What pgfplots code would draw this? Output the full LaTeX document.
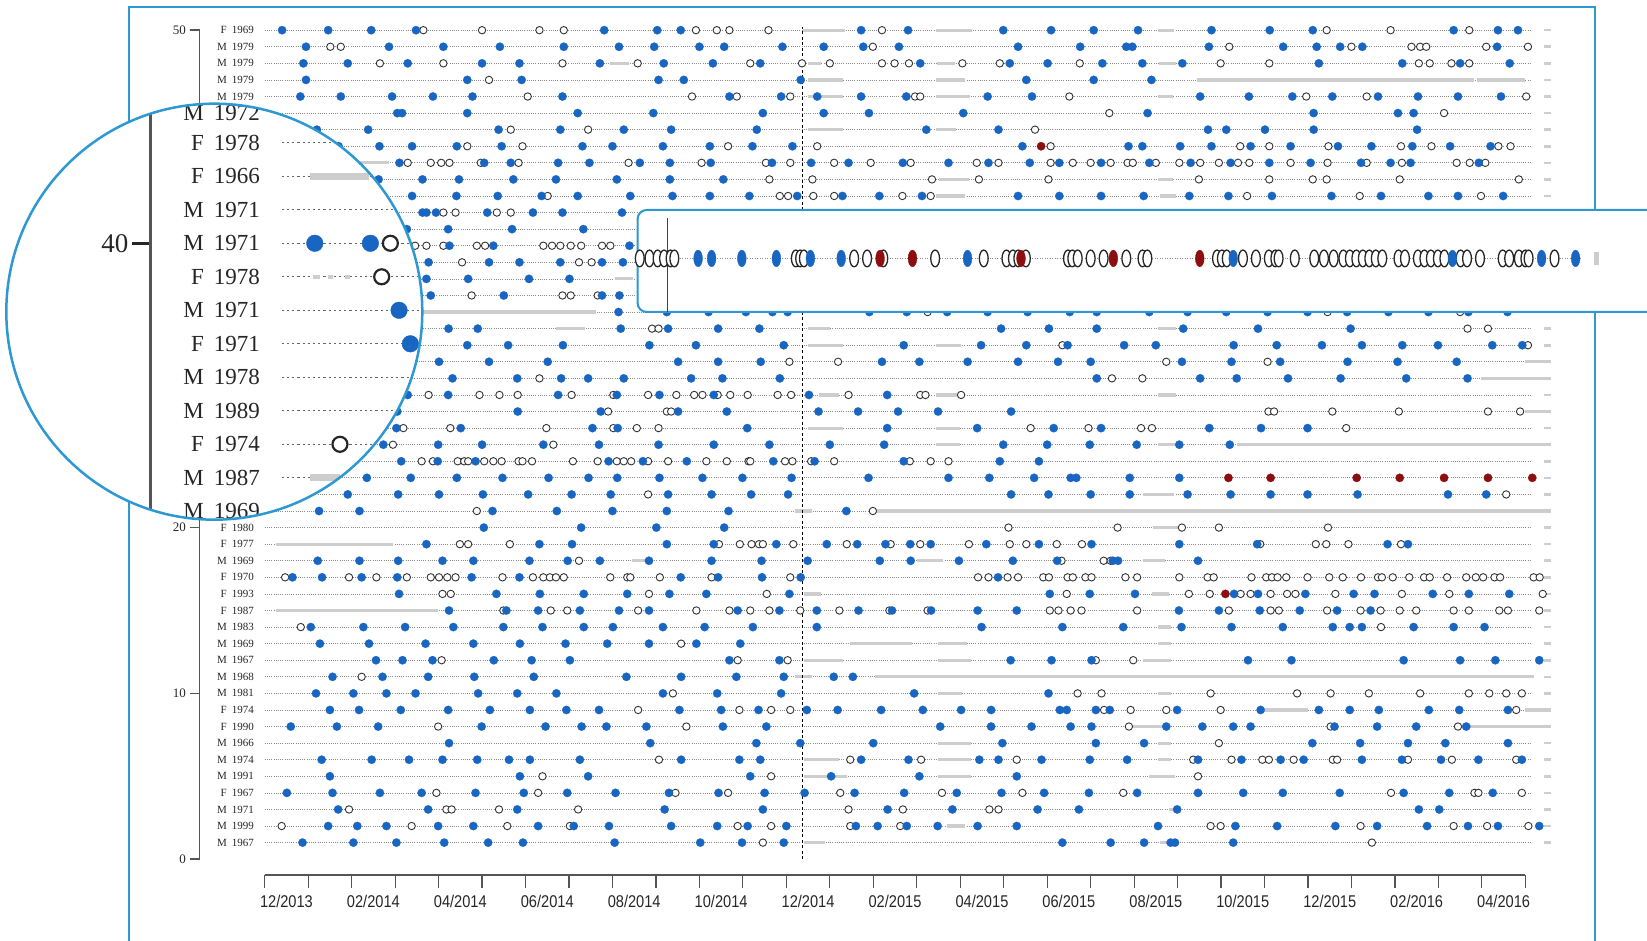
\documentclass[border=0pt]{standalone}
\usepackage{pgfplots}
\pgfplotsset{compat=1.18}
\usepackage{fontspec}
\setmainfont{Liberation Serif}
\newfontfamily\sansf{Liberation Sans}
\definecolor{ptblue}{RGB}{24,102,194}
\definecolor{ptred}{RGB}{140,14,14}
\definecolor{frameblue}{RGB}{46,152,210}
\definecolor{bargray}{RGB}{205,205,205}
\definecolor{linegray}{RGB}{140,140,140}
\definecolor{axgray}{RGB}{85,85,85}
\pgfplotsset{
  bluem/.style={only marks, mark=*, mark size=4.2pt, mark options={fill=ptblue, draw=ptblue, line width=0.2pt}},
  openm/.style={only marks, mark=*, mark size=3.7pt, mark options={fill=white, draw=black!80, line width=0.9pt}},
  redm/.style={only marks, mark=*, mark size=4.2pt, mark options={fill=ptred, draw=ptred, line width=0.2pt}},
  gbar/.style={no marks, color=bargray, line width=3.2pt, line cap=butt},
  rowline/.style={no marks, color=linegray, line width=0.7pt, dash pattern=on 0.7pt off 1.5pt},
}
\newcommand{\rl}[3]{\node[anchor=east, inner sep=0pt, font=\fontsize{11}{11}\selectfont, text=black!85] at (axis cs:-0.246,#1) {#2\hspace{5pt}#3};}
\newcommand{\cl}[3]{\node[anchor=east, inner sep=0pt, font=\fontsize{23}{23}\selectfont, text=black!85] at (axis cs:-0.25,#1) {#2\hspace{10pt}#3};}
\newcommand{\xl}[1]{\scalebox{0.86}[1]{#1}}
\begin{document}
\begin{tikzpicture}
\path[use as bounding box] (0,0) rectangle (1647pt,941pt);
\draw[frameblue, line width=2pt] (129.2pt,-5pt) -- (129.2pt,933.6pt) -- (1594.5pt,933.6pt) -- (1594.5pt,-5pt);

% ---------------- main axis ----------------
\begin{axis}[
  at={(199.5pt,81.8pt)}, anchor=south west,
  x=43.47pt, y=16.58pt,
  xmin=-1.5, xmax=30, ymin=0, ymax=50,
  axis x line=none, axis y line*=left,
  y axis line style={-, axgray, line width=1.4pt},
  ytick={0,10,20,30,40,50}, yticklabels={0,10,20,30,40,50},
  tick align=outside, major tick length=10pt,
  every tick/.style={axgray, line width=1.4pt},
  yticklabel style={font=\fontsize{13}{13}\selectfont, text=black!85},
  clip=false, unbounded coords=jump,
]
\pgfplotsinvokeforeach{1,...,50}{\addplot[rowline] coordinates {(0,#1) (29.15,#1)};}
\pgfplotsinvokeforeach{1,...,50}{\addplot[gbar, line width=2.6pt] coordinates {(29.42,#1) (29.58,#1)};}
\addplot[gbar] coordinates {
(12.38,50) (13.34,50) (nan,nan) (15.44,50) (16.27,50) (nan,nan) (20.54,50) (20.91,50) (nan,nan)
(7.95,48) (8.39,48) (nan,nan) (12.5,48) (12.8,48) (nan,nan) (15.47,48) (15.88,48) (nan,nan) (20.57,48) (20.96,48) (nan,nan)
(12.5,47) (13.3,47) (nan,nan) (15.44,47) (16.12,47) (nan,nan) (21.44,47) (27.83,47) (nan,nan) (27.88,47) (28.99,47) (nan,nan)
(12.5,46) (13.3,46) (nan,nan) (15.44,46) (16.22,46) (nan,nan) (20.54,46) (20.9,46) (nan,nan)
(12.5,44) (13.3,44) (nan,nan) (15.44,44) (15.9,44) (nan,nan)
(2.18,42) (2.86,42) (nan,nan)
(15.5,41) (16.2,41) (nan,nan) (20.54,41) (20.9,41) (nan,nan)
(15.44,40) (16.1,40) (nan,nan) (20.6,40) (20.96,40) (nan,nan)
(8.05,35) (8.48,35) (nan,nan)
(3.63,33) (7.61,33) (nan,nan)
(6.7,32) (7.37,32) (nan,nan) (12.5,32) (13.0,32) (nan,nan) (20.54,32) (20.96,32) (nan,nan)
(12.5,31) (13.3,31) (nan,nan) (15.44,31) (16.02,31) (nan,nan)
(28.99,30) (29.58,30) (nan,nan)
(27.98,29) (29.58,29) (nan,nan)
(12.75,28) (13.2,28) (nan,nan) (15.44,28) (16.0,28) (nan,nan) (20.54,28) (20.96,28) (nan,nan)
(28.99,27) (29.58,27) (nan,nan)
(12.5,26) (13.3,26) (nan,nan) (15.44,26) (16.0,26) (nan,nan)
(15.44,25) (16.0,25) (nan,nan) (20.54,25) (20.96,25) (nan,nan) (22.36,25) (29.58,25) (nan,nan)
(20.2,22) (20.91,22) (nan,nan)
(12.2,21) (12.6,21) (nan,nan) (14.0,21) (29.58,21) (nan,nan)
(20.43,20) (21.01,20) (nan,nan)
(0.26,19) (2.95,19) (nan,nan)
(8.45,18) (8.8,18) (nan,nan) (15.0,18) (15.6,18) (nan,nan) (20.2,18) (20.7,18) (nan,nan)
(12.4,16) (12.8,16) (nan,nan) (20.4,16) (20.8,16) (nan,nan)
(0.26,15) (3.99,15) (nan,nan)
(20.55,14) (20.85,14) (nan,nan)
(13.47,13) (14.9,13) (nan,nan) (15.48,13) (16.15,13) (nan,nan) (20.55,13) (20.85,13) (nan,nan)
(12.4,12) (13.3,12) (nan,nan) (15.48,12) (16.25,12) (nan,nan) (20.2,12) (20.85,12) (nan,nan)
(12.2,11) (12.6,11) (nan,nan) (14.04,11) (29.2,11) (nan,nan)
(15.48,10) (16.05,10) (nan,nan) (20.55,10) (20.85,10) (nan,nan)
(22.85,9) (24.0,9) (nan,nan) (29.0,9) (29.58,9) (nan,nan)
(19.88,8) (20.74,8) (nan,nan) (27.73,8) (29.55,8) (nan,nan)
(15.48,7) (16.25,7) (nan,nan) (20.55,7) (20.85,7) (nan,nan)
(12.4,6) (13.2,6) (nan,nan) (15.48,6) (16.25,6) (nan,nan) (20.55,6) (20.85,6) (nan,nan)
(12.4,5) (13.4,5) (nan,nan) (15.48,5) (16.25,5) (nan,nan) (20.35,5) (20.95,5) (nan,nan)
(20.8,3) (21.0,3) (nan,nan)
(15.7,2) (16.1,2) (nan,nan)
(12.4,1) (12.9,1) (nan,nan) (20.6,1) (21.0,1)
};
\addplot[no marks, black, line width=0.7pt, dash pattern=on 3pt off 2.5pt] coordinates {(12.37,0) (12.37,50.2)};
% open circles
\addplot[openm] coordinates {
(3.65,50) (5.00,50) (6.32,50) (6.88,50) (9.92,50) (10.40,50) (10.69,50) (11.59,50) (14.20,50) (24.43,50) (25.90,50) (27.71,50)
(1.51,49) (1.75,49) (13.99,49) (22.19,49) (25.0,49) (26.38,49) (26.58,49) (26.72,49) (28.1,49) (29.06,49)
(2.65,48) (4.11,48) (6.85,48) (8.58,48) (11.17,48) (12.36,48) (13.0,48) (14.2,48) (14.49,48) (14.82,48) (16.05,48) (16.91,48) (18.75,48) (21.99,48) (23.11,48) (26.55,48) (26.8,48) (27.3,48) (27.71,48)
(5.16,47)
(6.05,46) (9.83,46) (10.86,46) (12.09,46) (14.96,46) (15.08,46) (18.51,46) (23.96,46) (25.35,46) (29.02,46)
(19.43,45) (27.13,45)
(5.66,44) (7.44,44) (17.72,44)
(4.66,43) (5.93,43) (10.66,43) (12.71,43) (18.08,43) (22.44,43) (23.11,43) (24.47,43) (26.14,43) (26.84,43) (28.38,43) (28.66,43)
(3.29,42) (3.82,42) (4.06,42) (4.25,42) (4.97,42) (5.84,42) (8.37,42) (10.05,42) (11.53,42) (12.09,42) (13.1,42) (13.94,42) (14.86,42) (16.38,42) (16.88,42) (18.08,42) (18.59,42) (19.0,42) (19.46,42) (19.85,42) (19.97,42) (20.5,42) (21.04,42) (21.52,42) (21.95,42) (22.39,42) (22.65,42) (23.6,42) (24.45,42) (25.35,42) (26.16,42) (27.42,42) (27.72,42) (28.08,42)
(11.61,41) (12.6,41) (15.35,41) (16.43,41) (18.03,41) (21.49,41) (23.11,41) (24.11,41) (24.43,41) (26.11,41) (28.85,41)
(6.51,40) (11.85,40) (12.04,40) (12.62,40) (13.1,40) (14.67,40) (15.32,40) (22.6,40) (25.19,40) (27.98,40)
(4.11,39) (4.39,39) (5.34,39) (5.66,39)
(3.46,37) (3.72,37) (4.11,37) (4.88,37) (5.07,37) (6.41,37) (6.61,37) (6.8,37) (7.04,37) (7.28,37) (7.76,37) (7.95,37)
(4.54,36) (7.23,36) (7.52,36)
(4.76,34) (6.85,34) (7.04,34) (7.66,34)
(15.25,33) (24.45,33) (27.5,33)
(8.91,32) (9.06,32) (27.67,32) (28.14,32)
(18.35,31) (29.06,31)
(12.07,30) (13.19,30) (20.74,30) (23.07,30)
(6.32,29) (19.49,29) (20.19,29)
(3.77,28) (4.94,28) (5.4,28) (5.82,28) (7.06,28) (8.02,28) (8.82,28) (9.47,28) (9.88,28) (10.07,28) (10.42,28) (10.71,28) (11.11,28) (11.8,28) (12.11,28) (13.43,28) (15.08,28) (15.2,28) (16.02,28)
(7.9,27) (9.25,27) (9.35,27) (23.09,27) (23.22,27) (24.56,27) (26.09,27) (28.14,27) (28.88,27)
(3.19,26) (4.27,26) (6.48,26) (8.02,26) (8.56,26) (9.06,26) (17.62,26) (18.95,26) (20.16,26) (20.41,26) (24.88,26)
(2.95,25) (6.64,25)
(3.61,24) (3.87,24) (4.44,24) (4.59,24) (4.68,24) (5.05,24) (5.26,24) (5.45,24) (5.84,24) (5.93,24) (6.15,24) (7.09,24) (7.66,24) (8.1,24) (8.26,24) (8.43,24) (8.82,24) (9.28,24) (10.16,24) (10.63,24) (11.13,24) (11.17,24) (11.97,24) (12.14,24) (12.57,24) (13.1,24) (14.84,24) (15.32,24) (15.73,24)
(8.82,22) (28.56,22)
(4.88,21) (13.99,21)
(17.11,20) (19.62,20) (21.1,20) (21.95,20) (24.46,20)
(4.49,19) (4.68,19) (5.64,19) (10.45,19) (10.93,19) (11.2,19) (11.37,19) (11.46,19) (12.16,19) (13.39,19) (14.4,19) (15.08,19) (16.2,19) (17.14,19) (17.52,19) (18.22,19) (18.8,19) (22.9,19) (24.18,19) (24.42,19) (24.93,19) (26.14,19)
(7.23,18) (18.33,18) (19.3,18) (19.46,18)
(0.47,17) (1.94,17) (2.57,17) (3.27,17) (3.82,17) (4.01,17) (4.2,17) (4.39,17) (5.47,17) (6.17,17) (6.41,17) (6.56,17) (6.7,17) (6.88,17) (7.95,17) (8.34,17) (8.41,17) (9.09,17) (10.28,17) (12.09,17) (16.41,17) (16.65,17) (17.09,17) (17.33,17) (17.91,17) (18.04,17) (18.47,17) (18.59,17) (18.88,17) (19.02,17) (19.8,17) (20.07,17) (21.04,17) (21.69,17) (21.83,17) (22.7,17) (23.04,17) (23.17,17) (23.3,17) (23.5,17) (23.99,17) (24.49,17) (24.8,17) (25.22,17) (25.61,17) (25.7,17) (25.95,17) (26.33,17) (26.67,17) (26.8,17) (27.2,17) (27.64,17) (27.86,17) (28.03,17) (28.29,17) (28.42,17) (29.19,17) (29.33,17)
(4.09,16) (4.28,16) (8.84,16) (11.55,16) (18.45,16) (21.26,16) (21.74,16) (22.45,16) (22.68,16) (23.14,16) (23.52,16) (23.71,16) (24.63,16) (26.16,16) (27.25,16) (29.4,16)
(5.49,15) (6.58,15) (6.96,15) (8.59,15) (9.93,15) (10.69,15) (11.17,15) (11.61,15) (12.32,15) (13.22,15) (14.37,15) (15.25,15) (18.06,15) (18.26,15) (18.54,15) (18.79,15) (20.07,15) (22.18,15) (23.14,15) (23.33,15) (24.44,15) (25.21,15) (25.67,15) (26.11,15) (26.49,15) (27.35,15) (27.7,15) (28.4,15) (28.6,15) (29.32,15)
(0.83,14) (25.68,14)
(9.58,13)
(4.07,12) (10.88,12) (12.03,12) (19.12,12) (19.98,12)
(2.23,11)
(9.39,10) (18.7,10) (19.25,10) (21.76,10) (23.75,10) (24.52,10) (25.4,10) (26.58,10) (27.7,10) (28.17,10) (28.56,10) (28.92,10)
(8.59,9) (10.92,9) (11.65,9) (12.09,9) (19.31,9) (19.92,9) (20.74,9) (21.99,9) (28.79,9)
(3.99,8) (9.7,8) (19.88,8) (24.52,8) (27.45,8)
(21.95,7)
(9.07,6) (13.47,6) (15.1,6) (17.3,6) (21.36,6) (22.24,6) (22.95,6) (23.1,6) (23.67,6) (24.57,6) (24.67,6) (26.3,6) (27.31,6) (28.79,6)
(6.39,5) (11.65,5) (21.47,5)
(3.95,4) (6.29,4) (9.45,4) (10.66,4) (13.24,4) (15.58,4) (17.43,4) (19.75,4) (25.91,4) (27.83,4) (27.92,4) (28.92,4)
(1.94,3) (4.18,3) (4.3,3) (5.39,3) (7.21,3) (13.43,3) (14.68,3) (16.67,3) (16.88,3)
(0.39,2) (3.38,2) (5.58,2) (7.02,2) (10.88,2) (11.65,2) (13.47,2) (14.62,2) (21.76,2) (21.99,2) (25.21,2) (27.35,2) (28.12,2) (29.07,2)
(11.46,1) (25.47,1)
};
% blue points
\addplot[bluem] coordinates {
(0.40,50) (1.46,50) (2.45,50) (3.48,50) (7.81,50) (9.03,50) (9.57,50) (13.72,50) (14.80,50) (16.99,50) (18.09,50) (19.07,50) (20.09,50) (21.78,50) (23.12,50) (24.11,50) (27.35,50) (28.37,50) (28.83,50)
(0.95,49) (2.86,49) (4.11,49) (5.41,49) (6.88,49) (8.15,49) (8.96,49) (10.0,49) (10.57,49) (11.91,49) (12.86,49) (13.77,49) (14.59,49) (17.33,49) (18.76,49) (19.82,49) (19.96,49) (21.72,49) (23.43,49) (24.2,49) (24.74,49) (25.25,49) (28.35,49)
(0.89,48) (1.91,48) (3.29,48) (5.0,48) (5.86,48) (7.71,48) (9.18,48) (10.31,48) (11.40,48) (15.08,48) (17.14,48) (18.01,48) (19.27,48) (20.19,48) (21.11,48) (24.25,48) (26.17,48) (27.5,48) (28.64,48)
(0.95,47) (4.66,47) (5.91,47) (9.06,47) (9.64,47) (12.33,47) (17.52,47) (19.07,47) (20.40,47)
(0.82,46) (1.75,46) (2.93,46) (3.87,46) (4.78,46) (6.85,46) (10.69,46) (11.88,46) (12.71,46) (13.72,46) (14.76,46) (16.63,46) (17.65,46) (21.52,46) (22.64,46) (23.64,46) (24.56,46) (25.61,46) (26.53,46) (27.45,46) (28.44,46)
(3.05,45) (3.16,45) (4.66,45) (7.2,45) (8.94,45) (11.46,45) (12.86,45) (13.9,45) (16.07,45) (20.31,45) (24.13,45) (26.07,45) (26.43,45)
(1.2,44) (2.38,44) (5.38,44) (6.8,44) (8.26,44) (9.35,44) (11.32,44) (15.22,44) (16.88,44) (21.7,44) (22.12,44) (23.01,44) (24.13,44) (26.51,44)
(1.70,43) (2.64,43) (3.39,43) (4.42,43) (5.45,43) (7.31,43) (8.0,43) (9.16,43) (10.24,43) (11.22,43) (12.14,43) (17.43,43) (19.87,43) (20.19,43) (21.06,43) (21.78,43) (22.68,43) (23.6,43) (24.69,43) (25.46,43) (26.4,43) (27.27,43) (28.2,43)
(3.1,42) (5.05,42) (5.66,42) (6.75,42) (7.47,42) (8.63,42) (9.32,42) (10.26,42) (11.67,42) (12.57,42) (13.43,42) (14.68,42) (15.73,42) (16.65,42) (17.6,42) (18.28,42) (19.24,42) (20.35,42) (21.3,42) (22.22,42) (23.11,42) (24.06,42) (25.22,42) (25.9,42) (26.36,42) (27.93,42)
(2.62,41) (3.63,41) (4.47,41) (5.72,41) (6.7,41) (8.1,41) (9.32,41) (10.55,41)
(3.39,40) (4.41,40) (5.36,40) (6.37,40) (7.2,40) (8.41,40) (9.38,40) (10.24,40) (11.15,40) (12.25,40) (13.29,40) (14.14,40) (15.12,40) (17.33,40) (18.28,40) (19.24,40) (20.22,40) (21.27,40) (22.17,40) (23.17,40) (24.54,40) (25.68,40) (26.77,40) (27.45,40) (28.49,40)
(3.63,39) (3.72,39) (3.94,39) (5.12,39) (6.17,39) (6.85,39) (8.22,39)
(3.27,38) (4.22,38) (5.69,38) (7.33,38)
(4.25,37) (5.26,37) (8.39,37)
(3.77,36) (5.16,36) (5.86,36) (6.8,36) (7.76,36) (8.24,36)
(3.72,35) (4.68,35) (6.08,35) (7.01,35)
(3.82,34) (5.5,34) (7.76,34) (8.16,34)
(8.14,33) (9.25,33) (10.21,33) (11.07,33) (11.68,33) (12.03,33) (13.91,33) (14.77,33) (15.7,33) (16.63,33) (17.55,33) (18.52,33) (19.14,33) (20.35,33) (21.23,33) (22.12,33) (23.07,33) (23.99,33) (24.9,33) (25.85,33) (26.77,33) (27.69,33) (28.59,33)
(4.23,32) (4.9,32) (8.19,32) (9.28,32) (10.43,32) (11.38,32) (16.94,32) (18.04,32) (19.14,32) (21.13,32) (22.85,32) (24.98,32)
(4.66,31) (5.6,31) (6.86,31) (8.85,31) (9.92,31) (11.94,31) (14.7,31) (16.48,31) (17.52,31) (18.47,31) (19.77,31) (20.5,31) (22.29,31) (23.28,31) (24.32,31) (25.24,31) (26.17,31) (26.99,31) (28.24,31) (28.93,31)
(4.01,30) (5.16,30) (6.51,30) (9.51,30) (10.43,30) (11.41,30) (14.2,30) (15.06,30) (16.17,30) (17.33,30) (18.25,30) (19.0,30) (21.1,30) (22.24,30) (23.36,30) (24.91,30) (26.06,30) (27.42,30)
(4.32,29) (5.81,29) (6.82,29) (7.44,29) (8.26,29) (9.81,29) (10.53,29) (11.85,29) (19.14,29) (21.52,29) (22.36,29) (23.54,29) (24.75,29) (26.26,29) (27.67,29)
(3.29,28) (4.22,28) (6.75,28) (8.1,28) (9.08,28) (10.33,28) (12.52,28) (14.32,28)
(3.05,27) (5.82,27) (7.73,27) (9.51,27) (10.63,27) (12.74,27) (13.65,27) (14.57,27) (15.49,27) (17.17,27)
(3.03,26) (4.51,26) (7.54,26) (8.12,26) (11.1,26) (14.32,26) (16.39,26) (18.15,26) (19.24,26) (21.73,26) (22.92,26) (23.99,26)
(2.73,25) (3.99,25) (5.0,25) (6.41,25) (7.69,25) (9.06,25) (10.33,25) (11.61,25) (13.0,25) (14.25,25) (16.99,25) (18.0,25) (18.98,25) (20.06,25) (21.04,25) (22.2,25)
(3.14,24) (3.98,24) (4.85,24) (7.91,24) (8.7,24) (9.71,24) (11.7,24) (12.65,24) (14.7,24) (16.91,24) (17.81,24)
(2.35,23) (3.36,23) (4.42,23) (5.47,23) (6.53,23) (7.45,23) (8.11,23) (9.08,23) (10.07,23) (10.99,23) (12.12,23) (13.89,23) (15.73,23) (16.67,23) (17.7,23) (18.54,23) (18.67,23) (19.9,23) (21.04,23)
(1.91,22) (3.07,22) (4.01,22) (5.02,22) (6.06,22) (7.06,22) (7.96,22) (9.28,22) (10.28,22) (11.19,22) (12.04,22) (17.17,22) (18.03,22) (19.0,22) (19.9,22) (21.23,22) (22.22,22) (23.14,22) (23.99,22) (25.14,22) (27.22,22) (28.1,22)
(1.25,21) (2.18,21) (5.24,21) (6.72,21) (8.0,21) (9.25,21) (10.67,21) (13.38,21)
(5.04,20) (7.28,20) (9.01,20) (10.57,20)
(3.72,19) (6.32,19) (7.07,19) (9.25,19) (10.33,19) (11.77,19) (12.93,19) (13.63,19) (14.28,19) (14.85,19) (15.32,19) (16.6,19) (17.81,19) (19.02,19) (21.04,19) (22.83,19) (25.83,19) (26.3,19)
(1.22,18) (2.18,18) (3.07,18) (4.09,18) (4.8,18) (6.09,18) (6.97,18) (7.71,18) (8.84,18) (10.28,18) (11.43,18) (12.49,18) (14.15,18) (14.86,18) (15.97,18) (17.21,18) (18.23,18) (19.51,18) (19.63,18) (21.47,18)
(0.64,17) (1.32,17) (2.23,17) (3.05,17) (4.76,17) (5.86,17) (9.57,17) (10.43,17) (11.44,17) (12.33,17) (16.87,17)
(3.09,16) (5.33,16) (6.33,16) (7.34,16) (8.34,16) (9.31,16) (10.16,16) (12.07,16) (18.06,16) (18.98,16) (20.02,16) (22.3,16) (22.85,16) (23.94,16) (25.05,16) (25.53,16) (26.87,16) (27.7,16) (28.63,16)
(4.24,15) (5.56,15) (6.29,15) (7.25,15) (8.15,15) (8.84,15) (10.88,15) (11.84,15) (12.7,15) (13.66,15) (14.43,15) (15.33,15) (16.4,15) (17.3,15) (21.03,15) (21.95,15) (22.89,15) (23.81,15) (24.67,15) (25.44,15)
(1.06,14) (2.27,14) (3.23,14) (4.34,14) (5.49,14) (6.39,14) (7.34,14) (8.01,14) (9.16,14) (10.12,14) (11.23,14) (12.7,14) (16.49,14) (18.35,14) (19.75,14) (21.09,14) (22.24,14) (23.42,14) (24.57,14) (24.96,14) (25.24,14) (26.43,14) (27.35,14) (28.06,14)
(1.27,13) (2.4,13) (3.7,13) (4.8,13) (5.87,13) (6.92,13) (7.88,13) (8.84,13) (9.93,13) (10.94,13)
(2.56,12) (3.17,12) (3.86,12) (5.27,12) (6.14,12) (7.02,12) (10.69,12) (11.84,12) (17.16,12) (18.1,12) (19.02,12) (22.62,12) (23.62,12) (26.2,12) (27.5,12) (28.31,12) (29.32,12)
(1.56,11) (2.71,11) (3.76,11) (4.82,11) (6.19,11) (8.32,11) (9.58,11) (10.85,11) (11.94,11) (13.09,11) (13.53,11)
(1.18,10) (2.04,10) (2.8,10) (3.47,10) (4.91,10) (5.81,10) (6.71,10) (9.16,10) (10.41,10) (11.88,10) (14.94,10) (18.03,10)
(1.5,9) (2.17,9) (3.13,9) (4.22,9) (5.18,9) (6.1,9) (6.94,9) (7.69,9) (9.54,9) (10.5,9) (11.36,9) (12.47,9) (13.18,9) (14.18,9) (15.14,9) (16.02,9) (16.71,9) (18.29,9) (18.45,9) (19.12,9) (19.44,9) (20.99,9) (22.91,9) (24.25,9) (24.96,9) (25.63,9) (26.78,9) (27.48,9) (28.6,9)
(0.6,8) (1.66,8) (2.61,8) (4.99,8) (6.46,8) (7.29,8) (7.86,8) (8.78,8) (10.54,8) (11.54,8) (15.54,8) (16.71,8) (17.64,8) (18.54,8) (19.02,8) (20.74,8) (21.57,8) (22.28,8) (22.68,8) (24.61,8) (25.59,8) (26.49,8) (27.64,8)
(4.24,7) (8.87,7) (11.31,7) (12.32,7) (14.0,7) (16.97,7) (19.12,7) (20.23,7) (24.1,7) (25.2,7) (26.3,7) (27.16,7) (28.6,7)
(1.31,6) (2.46,6) (3.32,6) (4.09,6) (4.89,6) (5.62,6) (6.1,6) (7.25,6) (9.58,6) (10.92,6) (11.4,6) (13.72,6) (14.81,6) (16.44,6) (16.88,6) (17.87,6) (18.98,6) (19.84,6) (21.47,6) (22.47,6) (23.37,6) (23.9,6) (25.24,6) (26.16,6) (27.06,6) (27.92,6) (28.92,6)
(1.5,5) (5.87,5) (7.44,5) (11.17,5) (13.03,5) (15.06,5) (17.3,5)
(0.51,4) (1.56,4) (2.65,4) (3.61,4) (4.85,4) (5.96,4) (6.96,4) (8.07,4) (9.3,4) (10.44,4) (11.5,4) (12.42,4) (13.57,4) (14.71,4) (15.92,4) (16.95,4) (17.93,4) (18.96,4) (20.07,4) (21.47,4) (22.51,4) (23.42,4) (24.73,4) (26.2,4) (27.25,4) (28.25,4)
(1.69,3) (3.76,3) (5.81,3) (9.2,3) (11.46,3) (14.33,3) (15.82,3) (17.78,3) (18.73,3) (20.99,3) (26.55,3) (27.02,3)
(1.46,2) (2.13,2) (2.8,2) (3.99,2) (4.8,2) (6.29,2) (7.11,2) (7.92,2) (9.35,2) (10.41,2) (11.11,2) (12.0,2) (13.6,2) (14.1,2) (14.77,2) (15.48,2) (16.4,2) (17.3,2) (20.55,2) (22.33,2) (23.29,2) (24.63,2) (25.59,2) (26.74,2) (27.68,2) (28.37,2) (29.32,2)
(0.87,1) (2.04,1) (3.03,1) (4.13,1) (5.14,1) (5.94,1) (8.05,1) (10.02,1) (10.98,1) (11.94,1) (18.35,1) (19.46,1) (20.23,1) (20.84,1) (20.94,1) (22.28,1)
};
\addplot[redm] coordinates {
(17.86,43) (22.17,23) (23.14,23) (25.12,23) (26.11,23) (27.13,23) (28.14,23) (29.16,23) (22.1,16)
};
% row labels (rows 21-45 lie under the magnifier)
\rl{50}{F}{1969} \rl{49}{M}{1979} \rl{48}{M}{1979} \rl{47}{M}{1979} \rl{46}{M}{1979}
\rl{20}{F}{1980} \rl{19}{F}{1977} \rl{18}{M}{1969} \rl{17}{F}{1970} \rl{16}{F}{1993} \rl{15}{F}{1987}
\rl{14}{M}{1983} \rl{13}{M}{1969} \rl{12}{M}{1967} \rl{11}{M}{1968} \rl{10}{M}{1981} \rl{9}{F}{1974}
\rl{8}{F}{1990} \rl{7}{M}{1966} \rl{6}{M}{1974} \rl{5}{M}{1991} \rl{4}{F}{1967} \rl{3}{M}{1971}
\rl{2}{M}{1999} \rl{1}{M}{1967}
\end{axis}

% ---------------- date axis ----------------
\begin{axis}[
  at={(264.7pt,66pt)}, anchor=south west,
  x=43.47pt, y=10pt, xmin=0, xmax=29, ymin=0, ymax=1,
  axis x line*=bottom, axis y line=none,
  x axis line style={-, axgray, line width=1.4pt},
  xtick={0.5,2.5,...,28.5},
  xticklabels={\xl{12/2013},\xl{02/2014},\xl{04/2014},\xl{06/2014},\xl{08/2014},\xl{10/2014},\xl{12/2014},\xl{02/2015},\xl{04/2015},\xl{06/2015},\xl{08/2015},\xl{10/2015},\xl{12/2015},\xl{02/2016},\xl{04/2016}},
  minor xtick={0,1,...,29},
  tick align=outside, major tick length=0pt, minor tick length=13pt,
  every minor tick/.style={axgray, line width=1.2pt},
  xticklabel style={font=\sansf\fontsize{17}{17}\selectfont, text=black!85, anchor=north, yshift=-17pt},
]
\addplot[draw=none] coordinates {(0,0) (29,0)};
\end{axis}

% ---------------- stretched strip ----------------
\fill[white, rounded corners=9pt] (637.6pt,629pt) rectangle (1700pt,731pt);
\draw[frameblue, line width=2pt, rounded corners=9pt] (1700pt,629pt) -- (637.6pt,629pt) -- (637.6pt,731pt) -- (1700pt,731pt);
\begin{axis}[
  at={(637.6pt,629pt)}, anchor=south west,
  x=54pt, y=51pt, xmin=11.81, xmax=30.5, ymin=-1.05, ymax=0.95,
  hide axis, clip=false,
]
\addplot[no marks, color=linegray, line width=0.9pt, dash pattern=on 0.9pt off 1.6pt] coordinates {(11.85,0) (29.3,0)};
\addplot[no marks, black!75, line width=1pt] coordinates {(12.37,-1.05) (12.37,0.79)};
\addplot[no marks, bargray, line width=5pt] coordinates {(29.57,-0.13) (29.57,0.13)};
\addplot[only marks, mark=*, mark size=4.4pt, mark options={fill=white, draw=black!85, line width=1.3pt, yscale=1.9}] coordinates {
(11.85,0) (12.03,0) (12.18,0) (12.3,0) (12.42,0) (12.49,0) (14.74,0) (14.82,0) (14.89,0) (15.82,0) (16.06,0) (16.36,0) (17.32,0) (18.22,0) (18.64,0) (18.76,0) (18.86,0) (19.0,0) (19.78,0) (19.86,0) (19.96,0) (20.2,0) (20.44,0) (20.86,0) (21.16,0) (21.25,0) (22.54,0) (22.63,0) (22.72,0) (23.02,0) (23.26,0) (23.5,0) (23.62,0) (23.68,0) (23.98,0) (24.34,0) (24.52,0) (24.7,0) (24.88,0) (25.0,0) (25.12,0) (25.24,0) (25.36,0) (25.48,0) (25.6,0) (25.9,0) (26.02,0) (26.26,0) (26.38,0) (26.5,0) (26.63,0) (26.75,0) (27.05,0) (27.17,0) (27.41,0) (27.83,0) (27.95,0) (28.13,0) (28.25,0) (28.31,0) (28.79,0)
};
\addplot[only marks, mark=*, mark size=4.4pt, mark options={fill=ptblue, draw=ptblue, line width=0.3pt, yscale=1.9}] coordinates {
(12.93,0) (13.18,0) (13.74,0) (14.38,0) (15.01,0) (15.58,0) (17.92,0) (22.84,0) (26.9,0) (28.55,0) (29.18,0)
};
\addplot[only marks, mark=*, mark size=4.4pt, mark options={fill=ptred, draw=ptred, line width=0.3pt, yscale=1.9}] coordinates {
(16.30,0) (16.90,0) (18.91,0) (20.62,0) (22.22,0)
};
\end{axis}

% ---------------- magnifier circle ----------------
\begin{scope}
\clip (214.3pt,629.3pt) circle (208pt);
\fill[white] (214.3pt,629.3pt) circle (208pt);
\begin{axis}[
  at={(150pt,396.2pt)}, anchor=south west,
  x=86.9pt, y=33.5pt, xmin=-1.516, xmax=1.7, ymin=31, ymax=45,
  axis x line=none, axis y line*=left,
  y axis line style={-, axgray, line width=3pt},
  ytick={40}, yticklabels={40},
  tick align=outside, major tick length=18pt,
  every tick/.style={black!85, line width=2.6pt},
  yticklabel style={font=\fontsize{27}{27}\selectfont, text=black!85},
  clip=false, unbounded coords=jump,
]
\pgfplotsinvokeforeach{32,...,44}{\addplot[no marks, color=black!60, line width=1.3pt, dash pattern=on 2.2pt off 3pt] coordinates {(0,#1) (1.7,#1)};}
\addplot[no marks, bargray, line width=7pt] coordinates {(0.33,42) (1.0,42) (nan,nan) (0.33,33) (0.67,33)};
\addplot[no marks, bargray, line width=4pt] coordinates {(0.36,39) (0.44,39) (nan,nan) (0.53,39) (0.59,39) (nan,nan) (0.73,39) (0.79,39)};
\addplot[only marks, mark=*, mark size=7.5pt, mark options={fill=white, draw=black!85, line width=2.2pt}] coordinates {(1.25,40) (1.15,39) (0.67,34)};
\addplot[only marks, mark=*, mark size=8.3pt, mark options={fill=ptblue, draw=ptblue}] coordinates {(0.38,40) (1.02,40) (1.35,38) (1.48,37)};
\node[anchor=east, inner sep=0pt, font=\fontsize{23}{23}\selectfont, text=black!85, yshift=-4pt] at (axis cs:-0.25,44) {M\hspace{10pt}1972};
\cl{43}{F}{1978} \cl{42}{F}{1966} \cl{41}{M}{1971} \cl{40}{M}{1971}
\cl{39}{F}{1978} \cl{38}{M}{1971} \cl{37}{F}{1971} \cl{36}{M}{1978} \cl{35}{M}{1989}
\cl{34}{F}{1974} \cl{33}{M}{1987} \cl{32}{M}{1969}
\end{axis}
\end{scope}
\draw[frameblue, line width=2.5pt] (214.3pt,629.3pt) circle (208pt);
\end{tikzpicture}
\end{document}
